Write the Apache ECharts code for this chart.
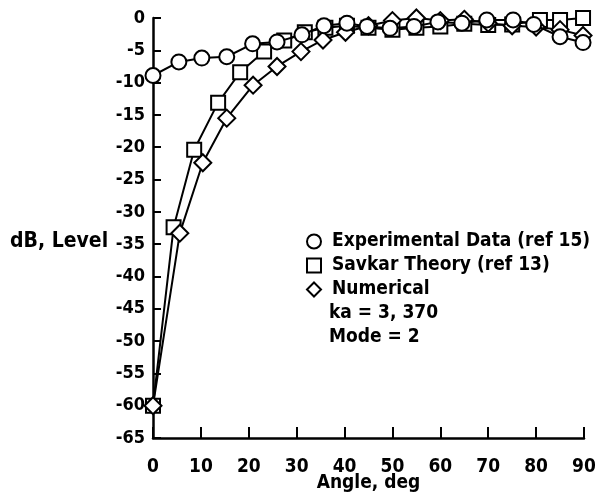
<!DOCTYPE html>
<html>
<head>
<meta charset="utf-8">
<script src="https://cdn.jsdelivr.net/npm/echarts@6/dist/echarts.min.js"></script>
<style>
html,body{margin:0;padding:0;background:#fff;}
#c{width:595px;height:499px;}
</style>
</head>
<body>
<div id="c"></div>
<script>
var expX = [0, 5.4, 10.2, 15.4, 20.8, 25.9, 31.1, 35.7, 40.5, 44.7, 49.5, 54.5, 59.5, 64.5, 69.7, 75.2, 79.5, 85, 89.8];
var expY = [-8.9, -6.8, -6.2, -6.0, -4.0, -3.7, -2.6, -1.2, -0.8, -1.3, -1.6, -1.3, -0.6, -0.8, -0.3, -0.3, -1.0, -2.9, -3.8];
var savX = [0, 4.3, 8.6, 13.6, 18.2, 23.2, 27.4, 31.7, 36, 40.5, 45, 50, 55, 60, 65, 70, 75, 80.8, 85, 89.8];
var savY = [-60, -32.4, -20.4, -13.1, -8.4, -5.2, -3.5, -2.2, -1.5, -1.2, -1.5, -1.8, -1.5, -1.3, -0.9, -1.1, -1.0, -0.3, -0.3, 0];
var numX = [0, 5.6, 10.4, 15.4, 20.9, 25.9, 30.9, 35.5, 40.2, 45, 50, 55, 60, 65, 70, 75, 80, 85, 89.8];
var numY = [-60, -33.3, -22.4, -15.5, -10.4, -7.5, -5.2, -3.4, -2.2, -1.2, -0.4, 0, -0.4, -0.2, -0.8, -1.2, -1.4, -1.8, -2.7];
var names = ['Experimental Data (ref 15)', 'Savkar Theory (ref 13)', 'Numerical'];
var notes = ['ka = 3, 370', 'Mode = 2'];

function pairs(xs, ys) { return xs.map(function (x, i) { return [x, ys[i]]; }); }

var FONT = '"DejaVu Sans Condensed", "Liberation Sans Narrow", sans-serif';
var FS = 19;
var chart = echarts.init(document.getElementById('c'), null, {renderer: 'canvas'});

function ser(name, data, symbol, size, z) {
  return {
    name: name, type: 'line', data: data, symbol: symbol, symbolSize: size,
    showAllSymbol: true, animation: false, z: z,
    lineStyle: {color: '#000', width: 2},
    itemStyle: {color: '#fff', borderColor: '#000', borderWidth: 2}
  };
}

chart.setOption({
  animation: false,
  backgroundColor: '#fff',
  grid: {left: 153, right: 11, top: 18, bottom: 61, containLabel: false, outerBoundsMode: 'none'},
  xAxis: {
    type: 'value', min: 0, max: 90, interval: 10,
    name: 'Angle, deg', nameLocation: 'middle', nameGap: 36, nameMoveOverlap: false,
    nameTextStyle: {fontFamily: FONT, fontWeight: 'bold', fontSize: FS, color: '#000'},
    axisLine: {show: true, onZero: false, lineStyle: {color: '#000', width: 2.5}},
    axisTick: {inside: true, length: 11, lineStyle: {color: '#000', width: 2}},
    axisLabel: {fontFamily: FONT, fontWeight: 'bold', fontSize: FS, color: '#000', margin: 20},
    splitLine: {show: false}
  },
  yAxis: {
    type: 'value', min: -65, max: 0, interval: 5,
    axisLine: {show: true, onZero: false, lineStyle: {color: '#000', width: 2.5}},
    axisTick: {inside: true, length: 8, lineStyle: {color: '#000', width: 2}},
    axisLabel: {fontFamily: FONT, fontWeight: 'bold', fontSize: 18, color: '#000', margin: 8},
    splitLine: {show: false}
  },
  legend: {
    orient: 'vertical', left: 301, top: 227, itemGap: 5,
    itemWidth: 14, itemHeight: 14,
    data: [
      {name: names[0], icon: 'circle'},
      {name: names[1], icon: 'rect'},
      {name: names[2], icon: 'diamond'}
    ],
    textStyle: {fontFamily: FONT, fontWeight: 'bold', fontSize: FS, color: '#000', padding: [0, 0, 0, 6]},
    itemStyle: {color: '#fff', borderColor: '#000', borderWidth: 2}
  },
  graphic: [
    {type: 'text', left: 10, top: 231, style: {text: 'dB, Level', fontFamily: FONT, fontWeight: 'bold', fontSize: 21, fill: '#000'}},
    {type: 'text', left: 329, top: 304, style: {text: notes[0], fontFamily: FONT, fontWeight: 'bold', fontSize: FS, fill: '#000'}},
    {type: 'text', left: 329, top: 328, style: {text: notes[1], fontFamily: FONT, fontWeight: 'bold', fontSize: FS, fill: '#000'}}
  ],
  series: [
    ser(names[1], pairs(savX, savY), 'rect', 14, 2),
    ser(names[2], pairs(numX, numY), 'diamond', 17, 3),
    ser(names[0], pairs(expX, expY), 'circle', 15, 4)
  ]
});
</script>
</body>
</html>
